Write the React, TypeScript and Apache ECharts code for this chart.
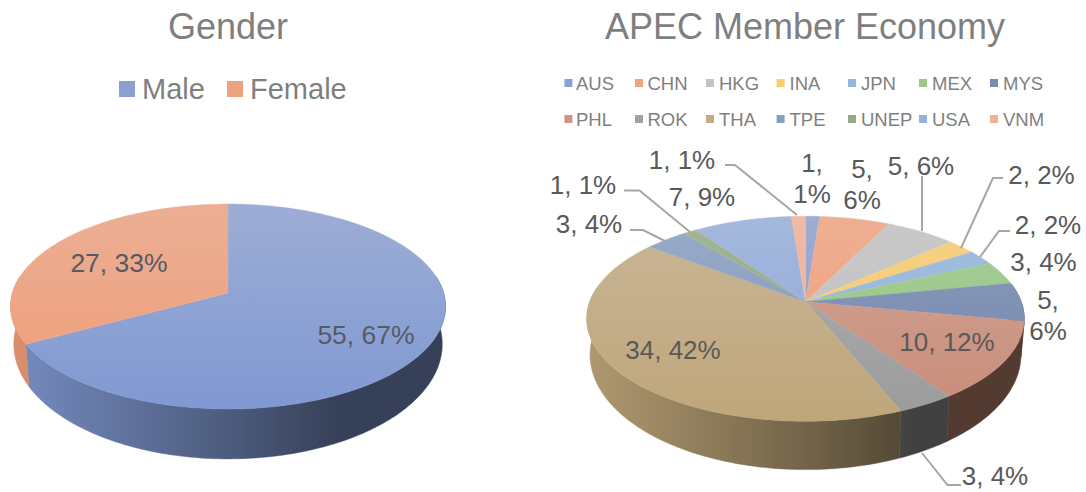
import React, { useEffect, useRef } from "react";
import * as echarts from "echarts";

// Gender split
const genderCategories = ["Male", "Female"];
const genderValues = [55, 27];
const genderPercents = [67, 33];
const genderColors = ["#8099d2", "#f09c76"];

// Participants by APEC member economy
const economyCategories = ["AUS", "CHN", "HKG", "INA", "JPN", "MEX", "MYS", "PHL", "ROK", "THA", "TPE", "UNEP", "USA", "VNM"];
const economyValues = [1, 5, 5, 2, 2, 3, 5, 10, 3, 34, 3, 1, 7, 1];
const economyPercents = [1, 6, 6, 2, 2, 4, 6, 12, 4, 42, 4, 1, 9, 1];
const economyColors = ["#8099d2", "#f49c74", "#c0c0c0", "#fdcb62", "#8ab2de", "#90c67c", "#6c82ad", "#c98c78", "#9b9b9b", "#bfa67a", "#7a96be", "#8aa578", "#8ca8dc", "#f6ac8e"];

// Label anchors, one per slice; wrapped labels break after the comma
const genderLabelSpots = [
  { x: 366, y: 335 },
  { x: 119, y: 263 },
];
const economyLabelSpots = [
  { x: 812, y: 178, wrap: true },
  { x: 862, y: 184, wrap: true },
  { x: 921, y: 166 },
  { x: 1041.5, y: 175 },
  { x: 1048, y: 225 },
  { x: 1043.5, y: 262 },
  { x: 1048, y: 315, wrap: true },
  { x: 947, y: 342 },
  { x: 995, y: 476 },
  { x: 673, y: 350 },
  { x: 589, y: 224 },
  { x: 583, y: 185 },
  { x: 702, y: 197 },
  { x: 682, y: 160 },
];
const leaderLines = [
  [[922, 176], [922, 231]],
  [[1003, 178], [993, 178], [961, 248]],
  [[1010, 231], [999, 231], [980, 257]],
  [[922, 453], [947.5, 485], [961, 485]],
  [[630, 230], [643, 230], [665, 241]],
  [[624, 190.5], [639.5, 190.5], [690, 232]],
  [[725, 165], [735, 165], [797, 215]],
];

// Disc projection: a tilted circle drawn with a mild perspective divide
type Disc = { cx: number; cy: number; a: number; b: number; k: number; dy: number; sx: number; sy: number };
const genderDisc: Disc = { cx: 228, cy: 293, a: 215.6, b: 100.7, k: 0.1317, dy: 36, sx: 0.985, sy: 1.12 };
const economyDisc: Disc = { cx: 805.5, cy: 301.7, a: 215.7, b: 99.7, k: 0.166, dy: 34, sx: 0.985, sy: 1.12 };

const rad = (d: number) => (d * Math.PI) / 180;

function rimPoint(d: Disc, deg: number, lower: boolean): number[] {
  const u = Math.sin(rad(deg));
  const v = -Math.cos(rad(deg));
  const w = 1 - d.k * v;
  return lower
    ? [d.cx + (d.sx * d.a * u) / w, d.cy + d.dy + (d.sy * d.b * v) / w]
    : [d.cx + (d.a * u) / w, d.cy + (d.b * v) / w];
}

function arcPoints(d: Disc, from: number, to: number, lower: boolean): number[][] {
  const pts: number[][] = [];
  const n = Math.max(2, Math.ceil(to - from));
  for (let i = 0; i <= n; i++) pts.push(rimPoint(d, from + ((to - from) * i) / n, lower));
  return pts;
}

function rgb(hex: string): number[] {
  return [1, 3, 5].map((i) => parseInt(hex.slice(i, i + 2), 16));
}
function mix(hex: string, other: string, t: number): string {
  const a = rgb(hex);
  const b = rgb(other);
  return `rgb(${a.map((c, i) => Math.round(c + (b[i] - c) * t)).join(",")})`;
}
function shade(hex: string, f: number): string {
  return `rgb(${rgb(hex).map((c) => Math.round(c * f)).join(",")})`;
}

function sliceRanges(values: number[]): number[][] {
  const total = values.reduce((s, v) => s + v, 0);
  let run = 0;
  return values.map((v) => {
    const start = (run / total) * 360;
    run += v;
    return [start, (run / total) * 360];
  });
}

function sideSeries(d: Disc, values: number[], colors: string[]) {
  const ranges = sliceRanges(values);
  const half = d.a * 1.014;
  return {
    type: "custom",
    coordinateSystem: "none",
    silent: true,
    z: 1,
    data: values,
    renderItem: (p: any) => {
      const [s, e] = ranges[p.dataIndex];
      const from = Math.max(s, 80);
      const to = Math.min(e, 280);
      if (to <= from) return null;
      const base = colors[p.dataIndex];
      const fill = {
        type: "linear",
        global: true,
        x: d.cx - half,
        y: 0,
        x2: d.cx + half,
        y2: 0,
        colorStops: [
          { offset: 0, color: shade(base, 0.92) },
          { offset: 0.5, color: shade(base, 0.6) },
          { offset: 0.75, color: shade(base, 0.42) },
          { offset: 1, color: shade(base, 0.42) },
        ],
      };
      return {
        type: "polygon",
        shape: { points: [...arcPoints(d, from, to, false), ...arcPoints(d, from, to, true).reverse()] },
        style: { fill, stroke: fill, lineWidth: 0.5 },
      };
    },
  };
}

function topSeries(d: Disc, values: number[], colors: string[]) {
  const ranges = sliceRanges(values);
  return {
    type: "custom",
    coordinateSystem: "none",
    silent: true,
    z: 2,
    data: values,
    renderItem: (p: any) => {
      const [s, e] = ranges[p.dataIndex];
      const base = colors[p.dataIndex];
      const fill = {
        type: "linear",
        global: true,
        x: 0,
        y: d.cy - d.b / (1 + d.k),
        x2: 0,
        y2: d.cy + d.b / (1 - d.k),
        colorStops: [
          { offset: 0, color: mix(base, "#e0dcdc", 0.3) },
          { offset: 1, color: base },
        ],
      };
      return {
        type: "polygon",
        shape: { points: [[d.cx, d.cy], ...arcPoints(d, s, e, false)] },
        style: { fill, stroke: fill, lineWidth: 0.4 },
      };
    },
  };
}

function labelSeries(values: number[], percents: number[], spots: any[], fontSize: number, color: string) {
  return {
    type: "custom",
    coordinateSystem: "none",
    silent: true,
    z: 5,
    data: values,
    renderItem: (p: any) => {
      const spot = spots[p.dataIndex];
      const sep = spot.wrap ? ",\n" : ", ";
      return {
        type: "text",
        x: spot.x,
        y: spot.y,
        style: {
          text: `${values[p.dataIndex]}${sep}${percents[p.dataIndex]}%`,
          align: "center",
          verticalAlign: "middle",
          fontFamily: "Liberation Sans",
          fontSize,
          lineHeight: spot.wrap ? 31 : fontSize,
          fill: color,
        },
      };
    },
  };
}

function legendItems(names: string[], colors: string[], rows: { x: number; y: number; tx: number }[], size: number, fontSize: number) {
  const items: any[] = [];
  names.forEach((name, i) => {
    const r = rows[i];
    items.push({
      type: "rect",
      shape: { x: r.x, y: r.y - size / 2, width: size, height: size },
      style: { fill: mix(colors[i], "#d8d8d8", 0.12) },
    });
    items.push({
      type: "text",
      x: r.tx,
      y: r.y,
      style: { text: name, fontFamily: "Liberation Sans", fontSize, fill: "#7f7f7f", align: "left", verticalAlign: "middle" },
    });
  });
  return items;
}

const economySwatchX = [564.4, 635, 706, 776.6, 848, 919, 990];
const economyTextX = [576, 647.5, 719, 789.5, 861, 932, 1003];
const economyLegendRows = economyCategories.map((_, i) => ({
  x: economySwatchX[i % 7],
  tx: economyTextX[i % 7],
  y: i < 7 ? 83 : 119,
}));
const genderLegendRows = [
  { x: 119, y: 89, tx: 142 },
  { x: 227, y: 89, tx: 250 },
];

export default function App() {
  const ref = useRef<HTMLDivElement>(null);
  useEffect(() => {
    const chart = echarts.init(ref.current!, undefined, { renderer: "svg" });
    const titleStyle = { fontFamily: "Liberation Sans", fontSize: 36, fontWeight: "normal", color: "#7f7f7f" };
    chart.setOption({
      animation: false,
      backgroundColor: "#ffffff",
      title: [
        { text: "Gender", left: 223, top: 3, textAlign: "center", textStyle: titleStyle },
        { text: "APEC Member Economy", left: 800, top: 3, textAlign: "center", textStyle: titleStyle },
      ],
      graphic: [
        ...legendItems(genderCategories, genderColors, genderLegendRows, 16, 29),
        ...legendItems(economyCategories, economyColors, economyLegendRows, 8, 18.5),
      ],
      series: [
        sideSeries(genderDisc, genderValues, genderColors),
        topSeries(genderDisc, genderValues, genderColors),
        labelSeries(genderValues, genderPercents, genderLabelSpots, 26.5, "#565a66"),
        sideSeries(economyDisc, economyValues, economyColors),
        topSeries(economyDisc, economyValues, economyColors),
        {
          type: "custom",
          coordinateSystem: "none",
          silent: true,
          z: 4,
          data: leaderLines.map((_, i) => i),
          renderItem: (p: any) => ({
            type: "polyline",
            shape: { points: leaderLines[p.dataIndex] },
            style: { fill: "none", stroke: "#a6a6a6", lineWidth: 2 },
          }),
        },
        labelSeries(economyValues, economyPercents, economyLabelSpots, 26, "#595959"),
      ],
    });
    return () => chart.dispose();
  }, []);
  return <div ref={ref} style={{ position: "absolute", left: 0, top: 0, width: 1086, height: 492 }} />;
}
